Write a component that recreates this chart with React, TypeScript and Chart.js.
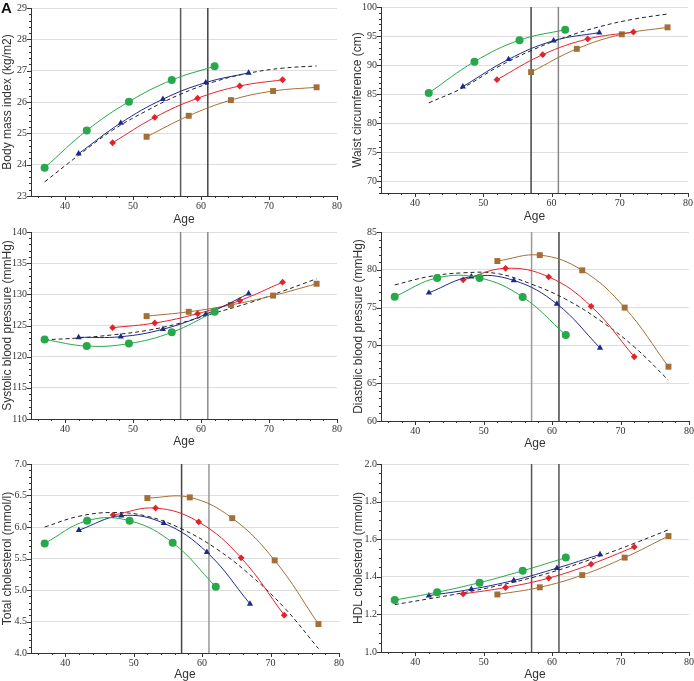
import React, { useEffect, useRef } from "react";
import { Chart, registerables } from "chart.js";
Chart.register(...registerables);

// ---------- data ----------
const ageTicks = [40, 50, 60, 70, 80];
const cutoffAges = [57, 61];

const ageG = [37, 43.2, 49.4, 55.7, 62];
const ageB = [42, 48.2, 54.4, 60.7, 67];
const ageR = [47, 53.2, 59.5, 65.7, 72];
const ageN = [52, 58.2, 64.4, 70.6, 77];
const fitAge = [37, 42, 47, 52, 57, 62, 67, 72, 77];

const waistAgeG = [42, 48.7, 55.3, 62];
const waistAgeB = [47, 53.7, 60.3, 67];
const waistAgeR = [52, 58.7, 65.3, 72];
const waistAgeN = [57, 63.7, 70.3, 77];
const waistFitAge = [42, 47, 52, 57, 62, 67, 72, 77];

const bmiG = [23.9, 25.09, 26.01, 26.7, 27.14];
const bmiB = [24.35, 25.33, 26.09, 26.62, 26.93];
const bmiR = [24.7, 25.51, 26.12, 26.51, 26.71];
const bmiN = [24.89, 25.56, 26.06, 26.35, 26.47];
const bmiFit = [23.45, 24.3, 25.1, 25.72, 26.25, 26.65, 26.92, 27.08, 27.15];
const bmiTicks = [23, 24, 25, 26, 27, 28, 29];

const waistG = [85.2, 90.6, 94.3, 96.1];
const waistB = [86.3, 91.0, 94.2, 95.6];
const waistR = [87.5, 91.8, 94.5, 95.7];
const waistN = [88.8, 92.8, 95.3, 96.5];
const waistFit = [83.5, 86.1, 89.6, 92.5, 94.8, 96.6, 97.9, 98.8];
const waistTicks = [70, 75, 80, 85, 90, 95, 100];

const sbpG = [122.75, 121.7, 122.1, 123.9, 127.2];
const sbpB = [123.1, 123.2, 124.4, 126.8, 130.1];
const sbpR = [124.65, 125.4, 126.9, 129.0, 131.95];
const sbpN = [126.5, 127.2, 128.3, 129.8, 131.7];
const sbpFit = [122.7, 123.0, 123.5, 124.2, 125.4, 127.0, 128.6, 130.5, 132.5];
const sbpTicks = [110, 115, 120, 125, 130, 135, 140];

const dbpG = [76.44, 78.93, 78.93, 76.4, 71.37];
const dbpB = [76.96, 79.1, 78.6, 75.48, 69.67];
const dbpR = [78.67, 80.2, 79.06, 75.17, 68.5];
const dbpN = [81.16, 81.94, 79.93, 75.0, 67.18];
const dbpFit = [78.0, 79.1, 79.6, 79.5, 78.1, 76.1, 73.3, 69.8, 65.4];
const dbpTicks = [60, 65, 70, 75, 80, 85];

const tcG = [5.74, 6.1, 6.1, 5.75, 5.05];
const tcB = [5.95, 6.18, 6.06, 5.6, 4.78];
const tcR = [6.19, 6.3, 6.08, 5.51, 4.6];
const tcN = [6.46, 6.47, 6.14, 5.47, 4.46];
const tcFit = [6.0, 6.17, 6.23, 6.17, 5.97, 5.66, 5.24, 4.72, 4.07];
const tcTicks = [4.0, 4.5, 5.0, 5.5, 6.0, 6.5, 7.0];

const hdlG = [1.276, 1.318, 1.369, 1.432, 1.502];
const hdlB = [1.3, 1.334, 1.381, 1.446, 1.519];
const hdlR = [1.309, 1.343, 1.393, 1.467, 1.559];
const hdlN = [1.306, 1.344, 1.409, 1.502, 1.617];
const hdlFit = [1.252, 1.283, 1.315, 1.352, 1.395, 1.448, 1.51, 1.578, 1.65];
const hdlTicks = [1.0, 1.2, 1.4, 1.6, 1.8, 2.0];

// ---------- styles ----------
const GREEN = "#27a84a";
const BLUE = "#1d2b88";
const RED = "#e3232b";
const BROWN = "#a46f36";
const TXT = "#333333";

type PanelDef = {
  title: string;
  plot: { l: number; r: number; t: number; b: number };
  titleX: number;
  ageY: number;
  col: number;
  yMin: number;
  yMax: number;
  yTicks: number[];
  yMinor: number;
  yMajor: number;
  decimals: number;
  ages: number[][];
  vals: number[][];
  fitX: number[];
  fitY: number[];
  vColors: string[];
};

const panels: PanelDef[] = [
  {
    title: "Body mass index (kg/m2)", plot: { l: 31, r: 337, t: 6, b: 196 }, titleX: 8, ageY: 220, col: 0,
    yMin: 23, yMax: 29, yTicks: bmiTicks, yMinor: 0.2, yMajor: 1, decimals: 0,
    ages: [ageG, ageB, ageR, ageN], vals: [bmiG, bmiB, bmiR, bmiN], fitX: fitAge, fitY: bmiFit,
    vColors: ["#5a5a5a", "#444444"],
  },
  {
    title: "Waist circumference (cm)", plot: { l: 381, r: 688, t: 5, b: 193 }, titleX: 358, ageY: 217, col: 1,
    yMin: 68, yMax: 100, yTicks: waistTicks, yMinor: 1, yMajor: 5, decimals: 0,
    ages: [waistAgeG, waistAgeB, waistAgeR, waistAgeN], vals: [waistG, waistB, waistR, waistN], fitX: waistFitAge, fitY: waistFit,
    vColors: ["#444444", "#888888"],
  },
  {
    title: "Systolic blood pressure (mmHg)", plot: { l: 31, r: 337, t: 230, b: 419 }, titleX: 7, ageY: 442, col: 0,
    yMin: 110, yMax: 140, yTicks: sbpTicks, yMinor: 1, yMajor: 5, decimals: 0,
    ages: [ageG, ageB, ageR, ageN], vals: [sbpG, sbpB, sbpR, sbpN], fitX: fitAge, fitY: sbpFit,
    vColors: ["#8a8a8a", "#8a8a8a"],
  },
  {
    title: "Diastolic blood pressure (mmHg)", plot: { l: 381, r: 689, t: 230, b: 421 }, titleX: 359, ageY: 444, col: 1,
    yMin: 60, yMax: 85, yTicks: dbpTicks, yMinor: 1, yMajor: 5, decimals: 0,
    ages: [ageG, ageB, ageR, ageN], vals: [dbpG, dbpB, dbpR, dbpN], fitX: fitAge, fitY: dbpFit,
    vColors: ["#999999", "#444444"],
  },
  {
    title: "Total cholesterol (mmol/l)", plot: { l: 31, r: 339, t: 462, b: 653 }, titleX: 8, ageY: 675, col: 0,
    yMin: 4, yMax: 7, yTicks: tcTicks, yMinor: 0.1, yMajor: 0.5, decimals: 1,
    ages: [ageG, ageB, ageR, ageN], vals: [tcG, tcB, tcR, tcN], fitX: fitAge, fitY: tcFit,
    vColors: ["#444444", "#999999"],
  },
  {
    title: "HDL cholesterol (mmol/l)", plot: { l: 381, r: 689, t: 462, b: 652 }, titleX: 359, ageY: 675, col: 1,
    yMin: 1, yMax: 2, yTicks: hdlTicks, yMinor: 0.05, yMajor: 0.2, decimals: 1,
    ages: [ageG, ageB, ageR, ageN], vals: [hdlG, hdlB, hdlR, hdlN], fitX: fitAge, fitY: hdlFit,
    vColors: ["#555555", "#555555"],
  },
];

const seriesStyle = [
  { color: GREEN, pointStyle: "circle", radius: 4 },
  { color: BLUE, pointStyle: "triangle", radius: 3.6 },
  { color: RED, pointStyle: "rectRot", radius: 3.4 },
  { color: BROWN, pointStyle: "rect", radius: 4.2 },
];

const tickMarks = {
  id: "tickMarks",
  afterDraw(chart: any, _args: any, opts: any) {
    const { ctx, chartArea } = chart;
    const xs = chart.scales.x;
    const ys = chart.scales.y;
    ctx.save();
    ctx.strokeStyle = TXT;
    ctx.lineWidth = 1;
    ctx.beginPath();
    // x minor ticks every 2 years
    const nx = Math.round((xs.max - 36) / 2);
    for (let i = 0; i <= nx; i++) {
      const v = 36 + i * 2;
      const px = Math.round(xs.getPixelForValue(v)) + 0.5;
      const major = v % 10 === 0;
      ctx.moveTo(px, chartArea.bottom);
      ctx.lineTo(px, chartArea.bottom + (major ? 4 : 2));
    }
    const ny = Math.round((ys.max - ys.min) / opts.yMinor);
    for (let i = 0; i <= ny; i++) {
      const v = ys.min + i * opts.yMinor;
      const q = v / opts.yMajor;
      const major = Math.abs(q - Math.round(q)) < 1e-6;
      const py = Math.round(ys.getPixelForValue(v)) + 0.5;
      ctx.moveTo(chartArea.left, py);
      ctx.lineTo(chartArea.left - (major ? 4 : 2), py);
    }
    ctx.stroke();
    ctx.restore();
  },
};

function Panel({ def }: { def: PanelDef }) {
  const ref = useRef<HTMLCanvasElement>(null);
  const cLeft = def.col === 0 ? 0 : 347;
  const cTop = def.plot.t - 8;
  const cRight = def.plot.r + 10;
  const cBottom = def.ageY + 7;
  const w = cRight - cLeft;
  const h = cBottom - cTop;

  useEffect(() => {
    const datasets: any[] = [];
    cutoffAges.forEach((a, i) => {
      datasets.push({
        type: "line",
        data: [{ x: a, y: def.yMin }, { x: a, y: def.yMax }],
        borderColor: def.vColors[i],
        borderWidth: 1.5,
        pointRadius: 0,
        order: 10,
      });
    });
    def.ages.forEach((xs, si) => {
      const st = seriesStyle[si];
      datasets.push({
        type: "line",
        data: xs.map((x, i) => ({ x, y: def.vals[si][i] })),
        borderColor: st.color,
        backgroundColor: st.color,
        borderWidth: 1,
        pointStyle: st.pointStyle,
        pointRadius: st.radius,
        pointBorderWidth: 0,
        tension: 0.4,
        order: 1,
      });
    });
    datasets.push({
      type: "line",
      data: def.fitX.map((x, i) => ({ x, y: def.fitY[i] })),
      borderColor: "#222222",
      borderWidth: 1,
      borderDash: [4, 3],
      pointRadius: 0,
      tension: 0.4,
      order: 2,
    });

    const yTitlePad = Math.max(0, def.titleX - cLeft - 7.2);
    const chart = new Chart(ref.current as HTMLCanvasElement, {
      type: "line",
      data: { datasets },
      plugins: [tickMarks as any],
      options: {
        responsive: false,
        animation: false,
        devicePixelRatio: 1,
        layout: { padding: { top: def.plot.t - cTop, right: cRight - def.plot.r, left: 0, bottom: 0 } },
        plugins: { legend: { display: false }, tooltip: { enabled: false }, tickMarks: { yMinor: def.yMinor, yMajor: def.yMajor } } as any,
        scales: {
          x: {
            type: "linear",
            min: 35,
            max: 80,
            afterBuildTicks: (s: any) => { s.ticks = ageTicks.map((v) => ({ value: v })); },
            afterFit: (s: any) => { s.height = cBottom - def.plot.b; },
            grid: { display: false, drawTicks: false },
            border: { display: true, color: TXT, width: 1 },
            ticks: { font: { family: "'Liberation Serif', serif", size: 10 }, color: TXT, padding: 4, maxRotation: 0 },
            title: { display: true, text: "Age", color: TXT, font: { family: "'Liberation Sans', Arial, sans-serif", size: 12 }, padding: { top: 0, bottom: 0 } },
          },
          y: {
            type: "linear",
            min: def.yMin,
            max: def.yMax,
            afterBuildTicks: (s: any) => { s.ticks = def.yTicks.map((v) => ({ value: v })); },
            afterFit: (s: any) => { s.width = def.plot.l - cLeft; },
            grid: { color: "#dedede", lineWidth: 1, drawTicks: false },
            border: { display: true, color: TXT, width: 1 },
            ticks: {
              font: { family: "'Liberation Serif', serif", size: 10 },
              color: TXT,
              padding: 4,
              callback: (v: any) => Number(v).toFixed(def.decimals),
            },
            title: { display: true, text: def.title, color: TXT, font: { family: "'Liberation Sans', Arial, sans-serif", size: 12 }, padding: { top: yTitlePad, bottom: 0 } },
          },
        },
      } as any,
    });
    return () => chart.destroy();
  }, []);

  return (
    <canvas
      ref={ref}
      width={w}
      height={h}
      style={{ position: "absolute", left: cLeft, top: cTop, width: w, height: h }}
    />
  );
}

export default function App() {
  return (
    <div style={{ position: "fixed", left: 0, top: 0, width: 694, height: 681, overflow: "hidden", background: "#ffffff" }}>
      {panels.map((p, i) => (
        <Panel key={i} def={p} />
      ))}
      <div style={{ position: "absolute", left: 1, top: 0, font: "bold 15px 'Liberation Sans', Arial, sans-serif", color: "#111", lineHeight: "16px" }}>A</div>
    </div>
  );
}
